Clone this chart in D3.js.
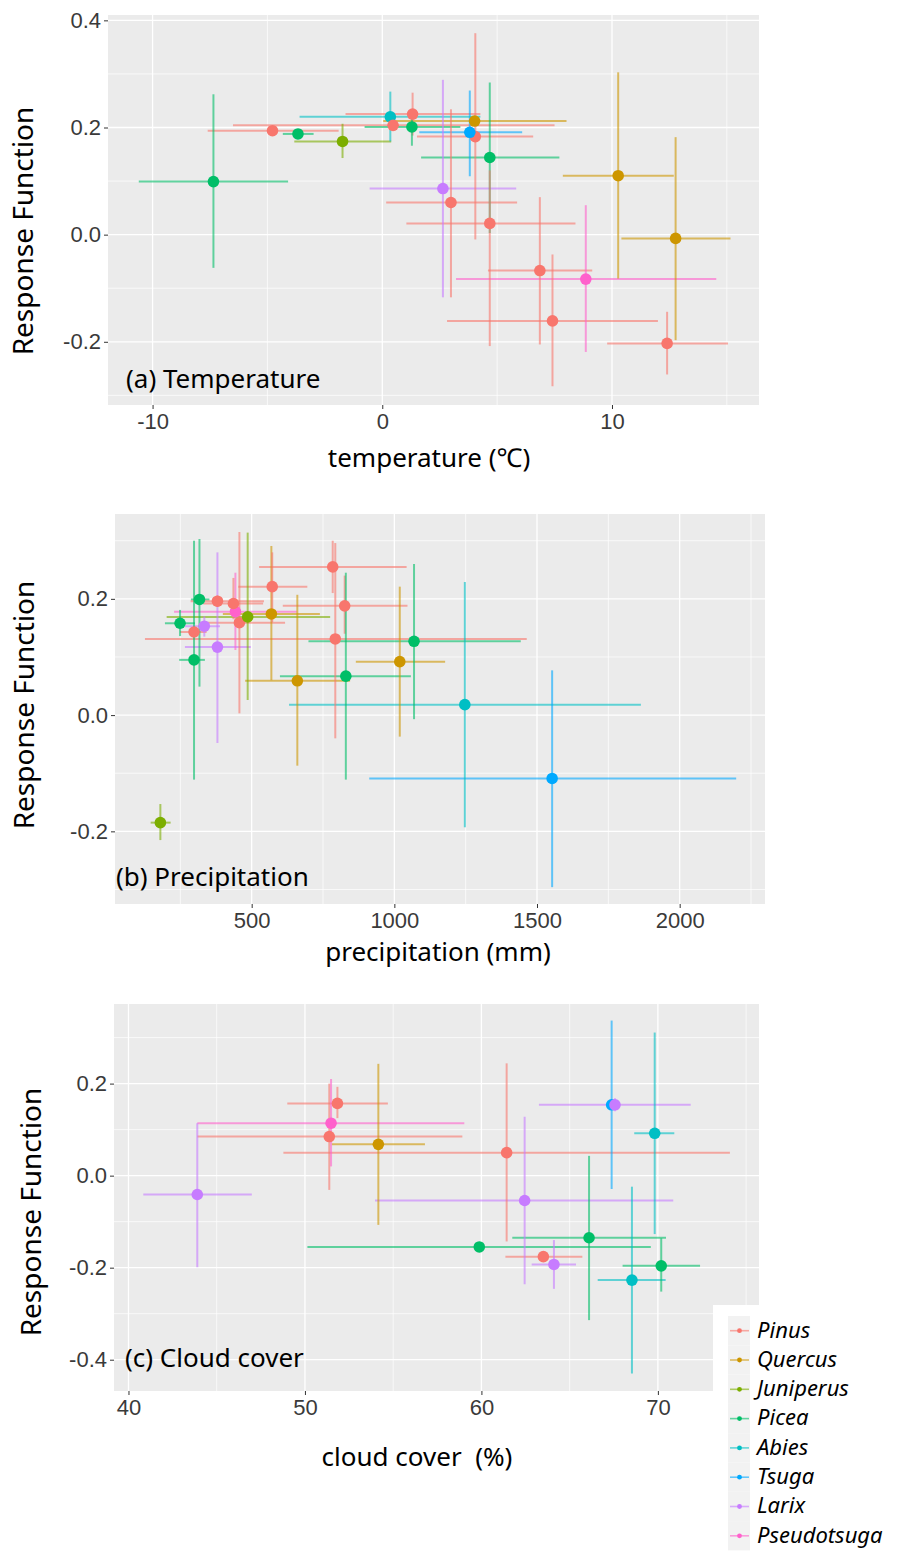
<!DOCTYPE html>
<html>
<head>
<meta charset="utf-8">
<script src="https://cdn.jsdelivr.net/npm/d3@7"></script>
<style>
  body { margin: 0; background: #fff; }
  svg { display: block; }
  .tick text { font-family: "Liberation Sans", Arial, sans-serif; font-size: 22px; fill: #3a3a3a; }
  .tick line { stroke: #333; }
  .title { font-family: "Noto Sans", "Open Sans", sans-serif; fill: #000; }
</style>
</head>
<body>
<div id="chart"></div>
<script>
// genus list + ggplot default hue colours
const genera = ['Pinus', 'Quercus', 'Juniperus', 'Picea', 'Abies', 'Tsuga', 'Larix', 'Pseudotsuga'];
const generaColors = ['#F8766D', '#CD9600', '#7CAE00', '#00BE67', '#00BFC4', '#00A9FF', '#C77CFF', '#FF61CC'];

// (a) temperature
const tempGenus = ['Picea', 'Pinus', 'Picea', 'Juniperus', 'Abies', 'Pinus', 'Pinus', 'Picea', 'Quercus', 'Pinus', 'Tsuga',
  'Picea', 'Larix', 'Pinus', 'Pinus', 'Pinus', 'Pseudotsuga', 'Pinus', 'Pinus', 'Quercus', 'Quercus'];
const tempX = [-7.35, -4.78, -3.67, -1.73, 0.35, 1.32, 0.47, 1.29, 4.02, 4.05, 3.81, 4.68, 2.64, 2.99, 4.68, 6.86, 8.86, 7.41, 12.4, 10.27, 12.77];
const tempXmin = [-10.6, -7.6, -4.33, -3.83, -3.6, -1.6, -6.5, -0.77, 0.04, 1.51, 1.61, 1.69, -0.55, 0.17, 1.05, 4.6, 3.21, 2.82, 9.79, 7.86, 10.41];
const tempXmax = [-4.1, -1.9, -2.99, 0.39, 4.27, 4.27, 7.5, 3.4, 8.02, 6.57, 6.09, 7.71, 5.83, 5.87, 8.41, 9.14, 14.54, 12.0, 15.05, 12.69, 15.16];
const tempY = [0.099, 0.194, 0.188, 0.174, 0.220, 0.225, 0.204, 0.201, 0.212, 0.183, 0.191, 0.144, 0.086, 0.060, 0.021, -0.067, -0.083, -0.161, -0.203, 0.110, -0.007];
const tempYmin = [-0.062, 0.185, 0.182, 0.143, 0.174, 0.185, 0.195, 0.166, 0.205, -0.009, 0.109, 0.003, -0.117, -0.117, -0.208, -0.205, -0.219, -0.283, -0.261, -0.082, -0.197];
const tempYmax = [0.262, 0.203, 0.194, 0.207, 0.267, 0.265, 0.213, 0.227, 0.219, 0.376, 0.269, 0.284, 0.289, 0.234, 0.12, 0.070, 0.055, -0.037, -0.144, 0.303, 0.182];

// (b) precipitation
const precGenus = ['Juniperus', 'Picea', 'Pinus', 'Picea', 'Picea', 'Larix', 'Larix', 'Pinus', 'Pseudotsuga', 'Pinus', 'Pinus', 'Juniperus',
  'Quercus', 'Pinus', 'Quercus', 'Pinus', 'Pinus', 'Pinus', 'Picea', 'Picea', 'Quercus', 'Abies', 'Tsuga'];
const precX = [180, 249, 298, 298, 317, 334, 380, 380, 443, 436, 457, 486, 569, 572, 660, 784, 793, 826, 830, 1069, 1019, 1247, 1553];
const precXmin = [146, 196, 249, 246, 287, 266, 266, 286, 228, 330, 325, 202, 399, 453, 477, 526, 126, 609, 599, 699, 865, 631, 912];
const precXmax = [216, 301, 342, 336, 352, 389, 497, 543, 658, 540, 617, 775, 739, 695, 845, 1043, 1464, 1046, 1058, 1443, 1178, 1864, 2198];
const precY = [-0.185, 0.158, 0.143, 0.095, 0.199, 0.153, 0.117, 0.196, 0.178, 0.192, 0.159, 0.169, 0.174, 0.221, 0.059, 0.255, 0.131, 0.188, 0.067, 0.127, 0.092, 0.018, -0.109];
const precYmin = [-0.215, 0.136, 0.133, -0.111, 0.049, 0.135, -0.048, 0.186, 0.112, 0.165, 0.003, 0.026, 0.060, 0.16, -0.087, 0.21, -0.040, 0.14, -0.111, -0.007, -0.037, -0.193, -0.296];
const precYmax = [-0.153, 0.181, 0.153, 0.300, 0.303, 0.170, 0.280, 0.206, 0.245, 0.236, 0.315, 0.314, 0.291, 0.28, 0.207, 0.30, 0.296, 0.24, 0.245, 0.260, 0.221, 0.229, 0.077];

// (c) cloud cover
const cloudGenus = ['Larix', 'Pinus', 'Pinus', 'Pseudotsuga', 'Quercus', 'Pinus', 'Larix', 'Picea', 'Pinus', 'Larix', 'Picea', 'Tsuga',
  'Larix', 'Abies', 'Picea', 'Abies'];
const cloudX = [43.9, 51.84, 51.38, 51.48, 54.16, 61.43, 62.45, 59.88, 63.51, 64.11, 66.1, 67.38, 67.57, 69.82, 70.19, 68.53];
const cloudXmin = [40.84, 49.0, 43.9, 43.9, 51.52, 48.78, 53.97, 50.14, 61.36, 62.85, 61.75, 67.2, 63.26, 68.66, 68.0, 66.59];
const cloudXmax = [46.99, 54.7, 58.92, 59.03, 56.8, 74.08, 70.87, 69.6, 65.72, 65.36, 70.46, 67.6, 71.86, 70.93, 72.39, 70.44];
const cloudY = [-0.041, 0.157, 0.085, 0.114, 0.068, 0.050, -0.054, -0.155, -0.176, -0.193, -0.135, 0.154, 0.154, 0.092, -0.196, -0.227];
const cloudYmin = [-0.199, 0.125, -0.031, 0.020, -0.107, -0.143, -0.236, -0.165, -0.186, -0.246, -0.314, -0.029, 0.14, -0.127, -0.252, -0.43];
const cloudYmax = [0.114, 0.193, 0.2, 0.21, 0.243, 0.244, 0.128, -0.145, -0.166, -0.14, 0.043, 0.337, 0.168, 0.311, -0.136, -0.024];

const W = 903, H = 1551;

const color = d3.scaleOrdinal().domain(genera).range(generaColors);

const svg = d3.select('#chart')
  .append('svg')
  .attr('width', W)
  .attr('height', H);

svg.append('rect').attr('width', W).attr('height', H).attr('fill', '#fff');

function drawPanel(p) {
  let x = d3.scaleLinear().domain(p.xDomain).range([p.left, p.right]);
  let y = d3.scaleLinear().domain(p.yDomain).range([p.bottom, p.top]);

  let g = svg.append('g');

  /* panel background + grid */
  g.append('rect')
    .attr('x', p.left).attr('y', p.top)
    .attr('width', p.right - p.left).attr('height', p.bottom - p.top)
    .attr('fill', '#EBEBEB');

  g.selectAll('.minor-x').data(p.xMinor).enter().append('line')
    .attr('x1', d => x(d)).attr('x2', d => x(d))
    .attr('y1', p.top).attr('y2', p.bottom)
    .attr('stroke', '#fff').attr('stroke-width', 0.7);
  g.selectAll('.minor-y').data(p.yMinor).enter().append('line')
    .attr('y1', d => y(d)).attr('y2', d => y(d))
    .attr('x1', p.left).attr('x2', p.right)
    .attr('stroke', '#fff').attr('stroke-width', 0.7);
  g.selectAll('.major-x').data(p.xMajor).enter().append('line')
    .attr('x1', d => x(d)).attr('x2', d => x(d))
    .attr('y1', p.top).attr('y2', p.bottom)
    .attr('stroke', '#fff').attr('stroke-width', 1.3);
  g.selectAll('.major-y').data(p.yMajor).enter().append('line')
    .attr('y1', d => y(d)).attr('y2', d => y(d))
    .attr('x1', p.left).attr('x2', p.right)
    .attr('stroke', '#fff').attr('stroke-width', 1.3);

  /* axes */
  let xAxis = d3.axisBottom(x).tickValues(p.xMajor).tickSize(4).tickPadding(4).tickFormat(d => String(d));
  let yAxis = d3.axisLeft(y).tickValues(p.yMajor).tickSize(4).tickPadding(3).tickFormat(d => d.toFixed(1));

  g.append('g')
    .attr('transform', `translate(0, ${p.bottom})`)
    .call(xAxis)
    .call(a => a.select('.domain').remove());
  g.append('g')
    .attr('transform', `translate(${p.left}, 0)`)
    .call(yAxis)
    .call(a => a.select('.domain').remove());

  /* error bars + points */
  let rows = p.genus.map((gn, i) => ({
    genus: gn, x: p.xs[i], xmin: p.xmin[i], xmax: p.xmax[i], y: p.ys[i], ymin: p.ymin[i], ymax: p.ymax[i]
  }));

  let bars = g.append('g').attr('class', 'bars');
  bars.selectAll('.hbar').data(rows).enter().append('line')
    .attr('x1', d => x(d.xmin)).attr('x2', d => x(d.xmax))
    .attr('y1', d => y(d.y)).attr('y2', d => y(d.y))
    .attr('stroke', d => color(d.genus))
    .attr('stroke-opacity', 0.6)
    .attr('stroke-width', 2);
  bars.selectAll('.vbar').data(rows).enter().append('line')
    .attr('x1', d => x(d.x)).attr('x2', d => x(d.x))
    .attr('y1', d => y(d.ymin)).attr('y2', d => y(d.ymax))
    .attr('stroke', d => color(d.genus))
    .attr('stroke-opacity', 0.6)
    .attr('stroke-width', 2);

  g.append('g').selectAll('circle').data(rows).enter().append('circle')
    .attr('cx', d => x(d.x))
    .attr('cy', d => y(d.y))
    .attr('r', 5.8)
    .attr('fill', d => color(d.genus));

  /* titles */
  g.append('text')
    .attr('class', 'title')
    .attr('x', p.labelX).attr('y', p.labelY)
    .style('font-size', '26px')
    .text(p.label);

  g.append('text')
    .attr('class', 'title')
    .attr('x', p.xTitleX).attr('y', p.xTitleY)
    .attr('text-anchor', 'middle')
    .style('font-size', '26px')
    .style('white-space', 'pre')
    .text(p.xTitle);

  g.append('text')
    .attr('class', 'title')
    .attr('transform', `translate(${p.yTitleX}, ${p.yTitleY}) rotate(-90)`)
    .attr('text-anchor', 'middle')
    .style('font-size', '28px')
    .text('Response Function');
}

drawPanel({
  left: 108, right: 759, top: 15, bottom: 405,
  xDomain: [-11.94, 16.4], yDomain: [-0.318, 0.41],
  xMajor: [-10, 0, 10], xMinor: [-5, 5, 15],
  yMajor: [-0.2, 0, 0.2, 0.4], yMinor: [-0.3, -0.1, 0.1, 0.3],
  genus: tempGenus, xs: tempX, xmin: tempXmin, xmax: tempXmax, ys: tempY, ymin: tempYmin, ymax: tempYmax,
  label: '(a) Temperature', labelX: 126, labelY: 388,
  xTitle: 'temperature (\u2103)', xTitleX: 429, xTitleY: 467,
  yTitleX: 33, yTitleY: 231
});

drawPanel({
  left: 115, right: 765, top: 514, bottom: 904,
  xDomain: [21, 2299], yDomain: [-0.325, 0.346],
  xMajor: [500, 1000, 1500, 2000], xMinor: [250, 750, 1250, 1750, 2250],
  yMajor: [-0.2, 0, 0.2], yMinor: [-0.3, -0.1, 0.1, 0.3],
  genus: precGenus, xs: precX, xmin: precXmin, xmax: precXmax, ys: precY, ymin: precYmin, ymax: precYmax,
  label: '(b) Precipitation', labelX: 116, labelY: 886,
  xTitle: 'precipitation (mm)', xTitleX: 438, xTitleY: 961,
  yTitleX: 34, yTitleY: 705
});

drawPanel({
  left: 114, right: 759, top: 1004, bottom: 1391,
  xDomain: [39.18, 75.73], yDomain: [-0.468, 0.373],
  xMajor: [40, 50, 60, 70], xMinor: [45, 55, 65, 75],
  yMajor: [-0.4, -0.2, 0, 0.2], yMinor: [-0.3, -0.1, 0.1, 0.3],
  genus: cloudGenus, xs: cloudX, xmin: cloudXmin, xmax: cloudXmax, ys: cloudY, ymin: cloudYmin, ymax: cloudYmax,
  label: '(c) Cloud cover', labelX: 125, labelY: 1367,
  xTitle: 'cloud cover  (%)', xTitleX: 417, xTitleY: 1466,
  yTitleX: 41, yTitleY: 1212
});

/* legend */
let legend = svg.append('g');
legend.append('rect')
  .attr('x', 713).attr('y', 1305).attr('width', W - 713).attr('height', H - 1305)
  .attr('fill', '#fff');

let item = legend.selectAll('.item').data(genera).enter().append('g')
  .attr('transform', (d, i) => `translate(728, ${1316 + i * 29.3})`);

item.append('rect')
  .attr('width', 22).attr('height', 29.3)
  .attr('fill', '#F2F2F2');
item.append('line')
  .attr('x1', 2).attr('x2', 21).attr('y1', 14.7).attr('y2', 14.7)
  .attr('stroke', d => color(d)).attr('stroke-opacity', 0.6).attr('stroke-width', 1.6);
item.append('circle')
  .attr('cx', 11.5).attr('cy', 14.7).attr('r', 2.4)
  .attr('fill', d => color(d));
item.append('text')
  .attr('class', 'title')
  .attr('x', 29).attr('y', 21.5)
  .style('font-size', '22px')
  .style('font-style', 'italic')
  .text(d => d);
</script>
</body>
</html>
